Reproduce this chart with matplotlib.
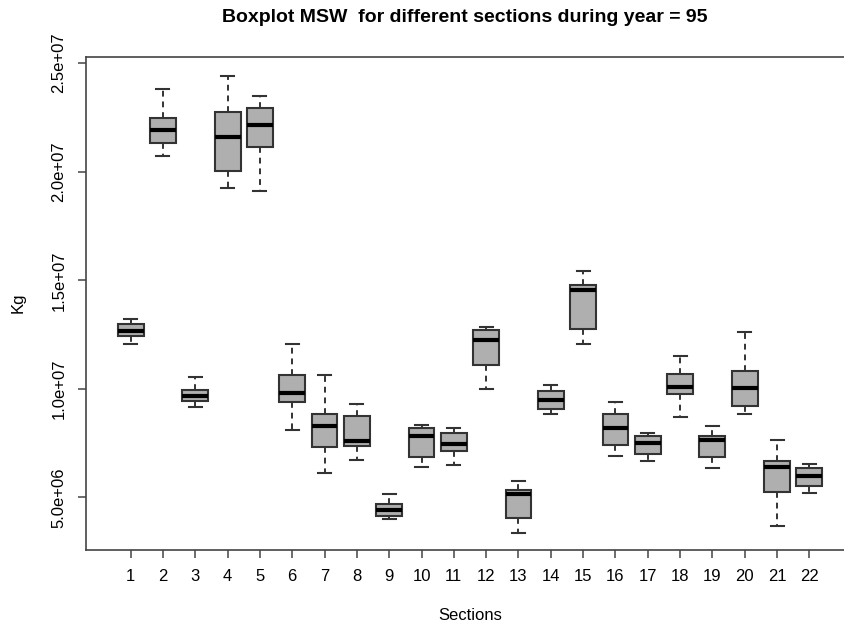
import matplotlib
matplotlib.use('Agg')
import matplotlib.pyplot as plt

sections = list(range(1, 23))
# five-number summaries, in Kg
whisk_lo = [12.08e6, 20.74e6, 9.15e6, 19.23e6, 19.12e6, 8.11e6, 6.11e6, 6.73e6, 4.00e6, 6.38e6, 6.51e6,
            10.00e6, 3.38e6, 8.85e6, 12.05e6, 6.92e6, 6.69e6, 8.70e6, 6.37e6, 8.82e6, 3.69e6, 5.20e6]
q1 = [12.45e6, 21.31e6, 9.46e6, 20.03e6, 21.15e6, 9.38e6, 7.31e6, 7.39e6, 4.16e6, 6.88e6, 7.12e6,
      11.11e6, 4.05e6, 9.08e6, 12.77e6, 7.43e6, 7.00e6, 9.74e6, 6.86e6, 9.23e6, 5.26e6, 5.54e6]
median = [12.66e6, 21.92e6, 9.65e6, 21.61e6, 22.15e6, 9.80e6, 8.28e6, 7.62e6, 4.43e6, 7.85e6, 7.46e6,
          12.26e6, 5.16e6, 9.49e6, 14.54e6, 8.18e6, 7.49e6, 10.10e6, 7.65e6, 10.06e6, 6.42e6, 6.00e6]
q3 = [12.97e6, 22.49e6, 9.97e6, 22.77e6, 22.95e6, 10.62e6, 8.82e6, 8.77e6, 4.70e6, 8.18e6, 7.97e6,
      12.69e6, 5.34e6, 9.92e6, 14.77e6, 8.82e6, 7.85e6, 10.70e6, 7.85e6, 10.81e6, 6.66e6, 6.36e6]
whisk_hi = [13.23e6, 23.81e6, 10.54e6, 24.41e6, 23.49e6, 12.08e6, 10.62e6, 9.31e6, 5.16e6, 8.35e6, 8.20e6,
            12.85e6, 5.74e6, 10.19e6, 15.43e6, 9.38e6, 7.95e6, 11.51e6, 8.31e6, 12.60e6, 7.64e6, 6.54e6]
ytick_vals = [5e6, 1e7, 1.5e7, 2e7, 2.5e7]
ytick_labels = ['5.0e+06', '1.0e+07', '1.5e+07', '2.0e+07', '2.5e+07']

plt.rcParams['font.family'] = ['Liberation Sans', 'DejaVu Sans']

fig = plt.figure(figsize=(8.45, 6.24), dpi=100)
# right edge of the frame runs past the image, like the cropped original
ax = fig.add_axes([86/845, 1-550/624, (854-86)/845, (550-57)/624])

stats = []
for i in range(len(sections)):
    stats.append({'whislo': whisk_lo[i], 'q1': q1[i], 'med': median[i],
                  'q3': q3[i], 'whishi': whisk_hi[i], 'fliers': []})

ax.bxp(stats, positions=sections, widths=0.8, capwidths=0.4, patch_artist=True,
       boxprops=dict(facecolor='#afafaf', edgecolor='#333333', linewidth=1.5),
       medianprops=dict(color='black', linewidth=3, solid_capstyle='butt'),
       whiskerprops=dict(color='#333333', linewidth=1.4, linestyle=(0, (3, 2.5))),
       capprops=dict(color='#333333', linewidth=1.5),
       showfliers=False)

ax.set_xlim(-0.38, 23.38)
ax.set_ylim(2.58e6, 25.28e6)
ax.set_xticks(sections)
ax.set_xticklabels([str(s) for s in sections], fontsize=12)
ax.set_yticks(ytick_vals)
ax.set_yticklabels(ytick_labels, fontsize=12, rotation=90, va='center')
ax.tick_params(axis='both', direction='out', length=6, width=1.1, color='#444444', pad=8)
for sp in ax.spines.values():
    sp.set_color('#444444')
    sp.set_linewidth(1.2)

fig.text(465/845, 1-18/624, 'Boxplot MSW  for different sections during year = 95',
         ha='center', va='center', fontsize=14, fontweight='bold')
fig.text(470/845, 1-616/624, 'Sections', ha='center', va='center', fontsize=12)
fig.text(18/845, 1-303/624, 'Kg', ha='center', va='center', fontsize=12, rotation=90)

plt.savefig('out.png', dpi=100)
